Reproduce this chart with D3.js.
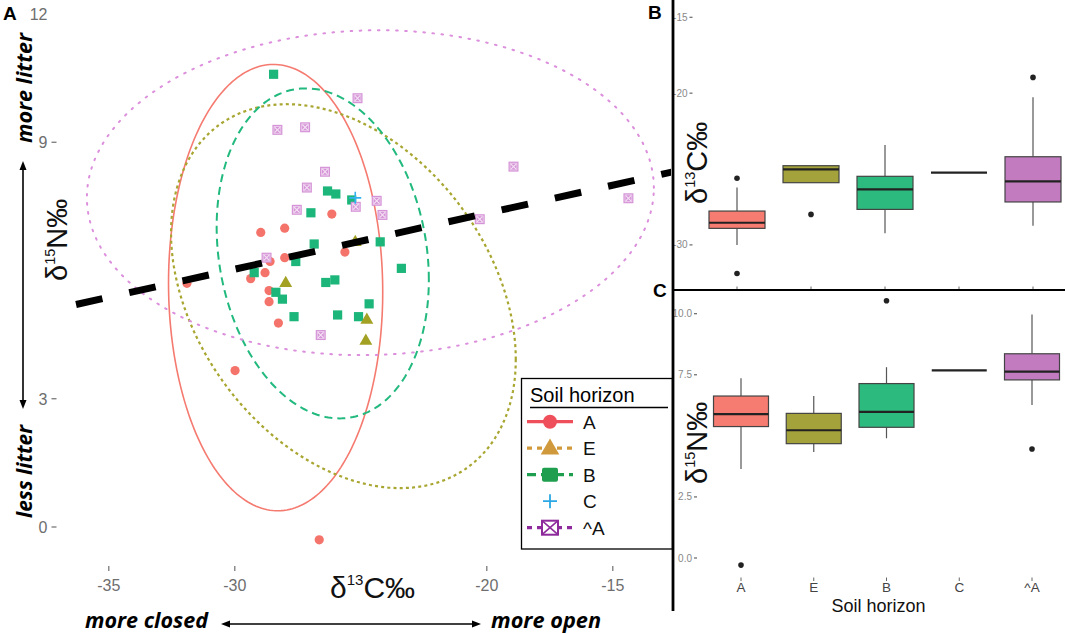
<!DOCTYPE html>
<html><head><meta charset="utf-8">
<script src="https://cdn.jsdelivr.net/npm/d3@7"></script>
<style>body{margin:0;background:#fff} svg{display:block}</style>
</head><body>
<svg id="c" width="1065" height="634"></svg>
<script>
// ---------------- DATA ----------------
const horizons = ["A", "E", "B", "C", "^A"];

// Panel A scatter: δ13C (x) and δ15N (y) per soil horizon
const d13C_A  = [-26.15,-28.97,-28.02,-25.63,-28.60,-28.02,-31.90,-29.37,-28.80,-28.64,-28.64,-28.27,-29.99,-26.65];
const d15N_A  = [7.32,6.89,6.99,6.43,6.21,6.30,5.70,5.81,5.95,5.53,5.27,4.77,3.66,-0.30];
const d13C_E  = [-27.98,-25.22,-24.76,-24.80];
const d15N_E  = [5.72,6.68,4.86,4.37];
const d13C_B  = [-28.46,-26.32,-25.99,-25.36,-26.98,-26.85,-24.23,-27.58,-23.39,-29.23,-26.39,-26.03,-28.37,-28.11,-24.67,-27.65,-25.92,-25.09];
const d15N_B  = [10.59,7.86,7.79,7.65,7.35,6.62,6.67,6.21,6.05,5.95,5.72,5.78,5.49,5.33,5.22,4.92,4.96,4.92];
const d13C_C  = [-25.22];
const d15N_C  = [7.70];
const d13C_hA = [-25.13,-28.31,-27.21,-26.42,-27.14,-27.54,-25.20,-24.37,-24.14,-28.74,-26.59,-18.94,-14.38,-20.28];
const d15N_hA = [10.03,9.29,9.35,8.31,7.94,7.42,7.49,7.63,7.30,6.30,4.49,8.43,7.69,7.20];

// 95% ellipses (centre, sd-like half extents, correlation)
const ellipseGroups = ["A", "E", "B", "^A"];
const ellipseCx = [-28.38, -25.69, -26.51, -24.62];
const ellipseCy = [5.60, 5.40, 6.40, 7.82];
const ellipseSx = [4.25, 6.84, 4.21, 11.25];
const ellipseSy = [5.22, 4.49, 3.86, 3.80];
const ellipseR  = [-0.02, -0.33, -0.16, 0.03];

// regression line
const lmSlope = 0.131, lmIntercept = 9.96;
const lmRange = [-36.3, -12.6];

// Panel A ticks
const axTicksX = [-35, -30, -20, -15];
const axTicksY = [0, 3, 9, 12];

// Panel B: δ13C box statistics
const bC_low  = [-30.00, -25.90, -29.24, -25.24, -28.74];
const bC_q1   = [-28.91, -25.90, -27.66, -25.24, -27.17];
const bC_med  = [-28.54, -25.02, -26.34, -25.24, -25.81];
const bC_q3   = [-27.77, -24.78, -25.48, -25.24, -24.19];
const bC_high = [-26.21, -24.78, -23.42, -25.24, -20.27];
const bC_out  = [[-25.61, -31.88], [-27.99], [], [], [-18.96]];
const bTicks  = [-15, -20, -30];

// Panel C: δ15N box statistics
const bN_low  = [3.64, 4.34, 4.90, 7.68, 6.26];
const bN_q1   = [5.38, 4.68, 5.35, 7.68, 7.29];
const bN_med  = [5.89, 5.23, 5.98, 7.68, 7.63];
const bN_q3   = [6.63, 5.92, 7.14, 7.68, 8.36];
const bN_high = [7.36, 6.63, 7.81, 7.68, 9.97];
const bN_out  = [[-0.29], [], [10.53], [], [4.46]];
const cTicks  = [0, 2.5, 7.5, 10];

// ---------------- STYLE ----------------
const ptColor   = {"A":"#F4736A","E":"#A3A124","B":"#1DB67A","C":"#33B2F0","^A":"#D594D7"};
const ellColor  = {"A":"#F57A70","E":"#A8A630","B":"#22B97E","^A":"#DC8FDC"};
const ellDash   = {"A":null,"E":"3,3.2","B":"8,5","^A":"1.6,7.5"};
const ellWidth  = {"A":1.6,"E":2.2,"B":2,"^A":2};
const boxFill   = {"A":"#F67B70","E":"#A4A23A","B":"#2DBA7E","C":"none","^A":"#C37BC0"};
const legColor  = {"A":"#EE4F5B","E":"#D09A3C","B":"#1E9E4E","C":"#2AA8E3","^A":"#8E2A9C"};
const FONT = "Liberation Sans, Arial, sans-serif";
const TICKC = "#6e6e6e";

const svg = d3.select("#c");
svg.append("rect").attr("width",1065).attr("height",634).attr("fill","#fff");

// ---------------- PANEL A ----------------
const x = d3.scaleLinear().domain([-35, -15]).range([108.8, 612.8]);
const y = d3.scaleLinear().domain([0, 12]).range([527, 14]);

svg.append("defs").append("clipPath").attr("id","clipA")
  .append("rect").attr("x",0).attr("y",0).attr("width",671).attr("height",634);
const gA = svg.append("g").attr("clip-path","url(#clipA)");

// ellipses
const ellLine = d3.line().x(d => x(d[0])).y(d => y(d[1])).curve(d3.curveLinearClosed);
ellipseGroups.forEach((g, i) => {
  const pts = d3.range(0, 240).map(k => {
    const t = k / 240 * 2 * Math.PI;
    const r = ellipseR[i];
    return [ellipseCx[i] + ellipseSx[i] * Math.cos(t),
            ellipseCy[i] + ellipseSy[i] * (r * Math.cos(t) + Math.sqrt(1 - r*r) * Math.sin(t))];
  });
  gA.append("path").attr("d", ellLine(pts)).attr("fill","none")
    .attr("stroke", ellColor[g]).attr("stroke-width", ellWidth[g])
    .attr("stroke-dasharray", ellDash[g])
    .attr("stroke-linecap", g === "^A" ? "round" : "butt");
});

// points
const zip = (a, b) => a.map((v, i) => [v, b[i]]);
gA.selectAll(".pa").data(zip(d13C_A, d15N_A)).join("circle")
  .attr("cx", d => x(d[0])).attr("cy", d => y(d[1])).attr("r", 4.6).attr("fill", ptColor["A"]);
gA.selectAll(".pb").data(zip(d13C_B, d15N_B)).join("rect")
  .attr("x", d => x(d[0]) - 4.6).attr("y", d => y(d[1]) - 4.6).attr("width", 9.2).attr("height", 9.2)
  .attr("fill", ptColor["B"]);
gA.selectAll(".pe").data(zip(d13C_E, d15N_E)).join("path")
  .attr("d", d3.symbol(d3.symbolTriangle, 72)())
  .attr("transform", d => `translate(${x(d[0])},${y(d[1]) + 0.8})`).attr("fill", ptColor["E"]);
const hA = gA.selectAll(".ph").data(zip(d13C_hA, d15N_hA)).join("g")
  .attr("transform", d => `translate(${x(d[0])},${y(d[1])})`);
hA.append("rect").attr("x",-5).attr("y",-5).attr("width",10).attr("height",10).attr("fill", ptColor["^A"]);
hA.append("path").attr("d","M-2.8,-2.8L2.8,2.8M-2.8,2.8L2.8,-2.8").attr("stroke","#f4e2f4").attr("stroke-width",1.1);
hA.append("rect").attr("x",-3.4).attr("y",-3.4).attr("width",6.8).attr("height",6.8)
  .attr("fill","none").attr("stroke","#efd3ef").attr("stroke-width",0.8);
gA.selectAll(".pc").data(zip(d13C_C, d15N_C)).join("path")
  .attr("d","M-6,0H6M0,-6V6").attr("transform", d => `translate(${x(d[0])},${y(d[1])})`)
  .attr("stroke", ptColor["C"]).attr("stroke-width", 1.6).attr("fill","none");

// regression dashed line
gA.append("path")
  .attr("d", d3.line().x(d => x(d)).y(d => y(lmIntercept + lmSlope * d))(lmRange))
  .attr("stroke","#000").attr("stroke-width",7).attr("stroke-dasharray","27,27.5").attr("fill","none");

// axis ticks / labels
axTicksX.forEach(v => {
  svg.append("line").attr("x1",x(v)).attr("x2",x(v)).attr("y1",566).attr("y2",571)
    .attr("stroke",TICKC).attr("stroke-width",1.2);
  svg.append("text").attr("x",x(v)).attr("y",591).attr("text-anchor","middle")
    .attr("font-family",FONT).attr("font-size",16).attr("fill",TICKC).text(v);
});
axTicksY.forEach(v => {
  if (v !== 12) svg.append("line").attr("x1",51.5).attr("x2",56.5).attr("y1",y(v)).attr("y2",y(v))
    .attr("stroke",TICKC).attr("stroke-width",1.2);
  svg.append("text").attr("x",47.5).attr("y",y(v) + 6).attr("text-anchor","end")
    .attr("font-family",FONT).attr("font-size",16).attr("fill",TICKC).text(v);
});

// axis titles
function isoTitle(g, base, sup, rest, size) {
  const t = g.append("text").attr("font-family",FONT).attr("font-size",size).attr("fill","#111");
  t.append("tspan").text(base);
  t.append("tspan").attr("font-size", size * 0.5).attr("dy", -size * 0.42).text(sup);
  t.append("tspan").attr("dy", size * 0.42).text(rest);
  return t;
}
isoTitle(svg, "δ", "13", "C‰", 30).attr("x", 330).attr("y", 598);
isoTitle(svg.append("g").attr("transform","translate(67,281) rotate(-90)"), "δ", "15", "N‰", 29);

// annotation text and arrows
const ann = (txt, tx, ty, rot, len) => svg.append("text")
  .attr("transform", `translate(${tx},${ty}) rotate(${rot})`)
  .attr("font-family","Open Sans, sans-serif").attr("font-weight","bold").attr("font-style","italic")
  .attr("font-size",21).attr("fill","#000").attr("textLength",len).attr("lengthAdjust","spacingAndGlyphs")
  .text(txt);
ann("more litter", 32, 143, -90, 110);
ann("less litter", 32, 518, -90, 93);
ann("more closed", 85, 628, 0, 123);
ann("more open", 491, 628, 0, 110);

svg.append("line").attr("x1",23).attr("x2",23).attr("y1",168).attr("y2",402).attr("stroke","#000").attr("stroke-width",1.6);
svg.append("path").attr("d","M23,161L19.5,170L26.5,170Z").attr("fill","#000");
svg.append("path").attr("d","M23,409L19.5,400L26.5,400Z").attr("fill","#000");
svg.append("line").attr("x1",229).attr("x2",473).attr("y1",624).attr("y2",624).attr("stroke","#000").attr("stroke-width",1.6);
svg.append("path").attr("d","M221,624L230,620.5L230,627.5Z").attr("fill","#000");
svg.append("path").attr("d","M481,624L472,620.5L472,627.5Z").attr("fill","#000");

// panel letters
const letter = (t, lx, ly) => svg.append("text").attr("x",lx).attr("y",ly).attr("font-family",FONT)
  .attr("font-weight","bold").attr("font-size",19).attr("fill","#000").text(t);
letter("A", 3, 20);
letter("B", 648, 19);
letter("C", 653, 297);

// legend
const lg = svg.append("g");
lg.append("rect").attr("x",521.5).attr("y",378.5).attr("width",151).attr("height",170.5)
  .attr("fill","#fff").attr("stroke","#000").attr("stroke-width",1.3);
lg.append("text").attr("x",530).attr("y",402).attr("font-family",FONT).attr("font-size",20).text("Soil horizon");
lg.append("line").attr("x1",530).attr("x2",668).attr("y1",407.5).attr("y2",407.5).attr("stroke","#000").attr("stroke-width",1.5);
const legY = d3.scalePoint().domain(horizons).range([421.7, 527.7]);
const legDash = {"A":null,"E":"5,5","B":"9,5","C":null,"^A":"5,5"};
horizons.forEach(h => {
  const cy = legY(h), c = legColor[h];
  if (h !== "C") lg.append("line").attr("x1",527).attr("x2",573).attr("y1",cy).attr("y2",cy)
    .attr("stroke",c).attr("stroke-width",3.2).attr("stroke-dasharray",legDash[h]);
  if (h === "A") lg.append("circle").attr("cx",550).attr("cy",cy).attr("r",7).attr("fill",c);
  if (h === "E") lg.append("path").attr("d",d3.symbol(d3.symbolTriangle,150)())
    .attr("transform",`translate(550,${cy+1})`).attr("fill",c);
  if (h === "B") lg.append("rect").attr("x",542).attr("y",cy-7).attr("width",16).attr("height",14).attr("rx",2).attr("fill",c);
  if (h === "C") lg.append("path").attr("d",`M543,${cy}H557M550,${cy-7}V${cy+7}`).attr("stroke",c).attr("stroke-width",1.8);
  if (h === "^A") {
    lg.append("rect").attr("x",542).attr("y",cy-7).attr("width",16).attr("height",14).attr("fill","#fff")
      .attr("stroke",c).attr("stroke-width",2);
    lg.append("path").attr("d",`M542,${cy-7}L558,${cy+7}M542,${cy+7}L558,${cy-7}`).attr("stroke",c).attr("stroke-width",1.6);
  }
  lg.append("text").attr("x",583).attr("y",cy+7).attr("font-family",FONT).attr("font-size",19).attr("fill","#111").text(h);
});

// ---------------- PANELS B & C ----------------
const xB = d3.scalePoint().domain(horizons).range([737, 1033]);
const xC = d3.scalePoint().domain(horizons).range([741, 1032]);
const yB = d3.scaleLinear().domain([-15, -30]).range([17.3, 244.9]);
const yC = d3.scaleLinear().domain([0, 10]).range([558, 313.7]);

svg.append("rect").attr("x",672).attr("y",0).attr("width",393).attr("height",612).attr("fill","#fff");

function boxes(xs, ys, low, q1, med, q3, high, outs, bw) {
  const g = svg.append("g");
  horizons.forEach((h, i) => {
    const cx = xs(h);
    if (h === "C") {
      g.append("line").attr("x1",cx-bw/2).attr("x2",cx+bw/2).attr("y1",ys(med[i])).attr("y2",ys(med[i]))
        .attr("stroke","#222").attr("stroke-width",2.2);
      return;
    }
    g.append("line").attr("x1",cx).attr("x2",cx).attr("y1",ys(high[i])).attr("y2",ys(q3[i])).attr("stroke","#555").attr("stroke-width",1.2);
    g.append("line").attr("x1",cx).attr("x2",cx).attr("y1",ys(q1[i])).attr("y2",ys(low[i])).attr("stroke","#555").attr("stroke-width",1.2);
    g.append("rect").attr("x",cx-bw/2).attr("y",ys(q3[i])).attr("width",bw)
      .attr("height",Math.abs(ys(q1[i]) - ys(q3[i]))).attr("fill",boxFill[h]).attr("stroke","#444").attr("stroke-width",1.2);
    g.append("line").attr("x1",cx-bw/2).attr("x2",cx+bw/2).attr("y1",ys(med[i])).attr("y2",ys(med[i]))
      .attr("stroke","#222").attr("stroke-width",2.2);
    outs[i].forEach(o => g.append("circle").attr("cx",cx).attr("cy",ys(o)).attr("r",2.8).attr("fill","#222"));
  });
}
boxes(xB, yB, bC_low, bC_q1, bC_med, bC_q3, bC_high, bC_out, 56);
boxes(xC, yC, bN_low, bN_q1, bN_med, bN_q3, bN_high, bN_out, 55);

// B axis ticks
bTicks.forEach(v => {
  svg.append("text").attr("x",687.5).attr("y",yB(v)+3.5).attr("text-anchor","end")
    .attr("font-family",FONT).attr("font-size",10).attr("fill","#888").text(v);
  svg.append("line").attr("x1",689.5).attr("x2",692.5).attr("y1",yB(v)).attr("y2",yB(v)).attr("stroke","#666").attr("stroke-width",1.2);
});
cTicks.forEach(v => {
  svg.append("text").attr("x",692).attr("y",yC(v)+3.5).attr("text-anchor","end")
    .attr("font-family",FONT).attr("font-size",10).attr("fill","#888").text(d3.format(".1f")(v));
  svg.append("line").attr("x1",694).attr("x2",697).attr("y1",yC(v)).attr("y2",yC(v)).attr("stroke","#666").attr("stroke-width",1.2);
});
horizons.forEach(h => {
  svg.append("line").attr("x1",xB(h)).attr("x2",xB(h)).attr("y1",286.5).attr("y2",290).attr("stroke","#666").attr("stroke-width",1);
  svg.append("line").attr("x1",xC(h)).attr("x2",xC(h)).attr("y1",577.5).attr("y2",581).attr("stroke","#666").attr("stroke-width",1);
  svg.append("text").attr("x",xC(h)).attr("y",592).attr("text-anchor","middle")
    .attr("font-family",FONT).attr("font-size",13.5).attr("fill","#444").text(h);
});

// titles B & C
const tB = svg.append("g").attr("transform","translate(707,204) rotate(-90)");
isoTitle(tB, "δ", "13", "C‰", 29);
const tC = svg.append("g").attr("transform","translate(707,484) rotate(-90)");
isoTitle(tC, "δ", "15", "N‰", 29);
svg.append("text").attr("x",878.5).attr("y",612).attr("text-anchor","middle")
  .attr("font-family",FONT).attr("font-size",18).attr("fill","#111").text("Soil horizon");

// frame lines
svg.append("line").attr("x1",673).attr("x2",673).attr("y1",0).attr("y2",611).attr("stroke","#000").attr("stroke-width",2.8);
svg.append("line").attr("x1",673).attr("x2",1065).attr("y1",290).attr("y2",290).attr("stroke","#000").attr("stroke-width",2);
</script>
</body></html>
